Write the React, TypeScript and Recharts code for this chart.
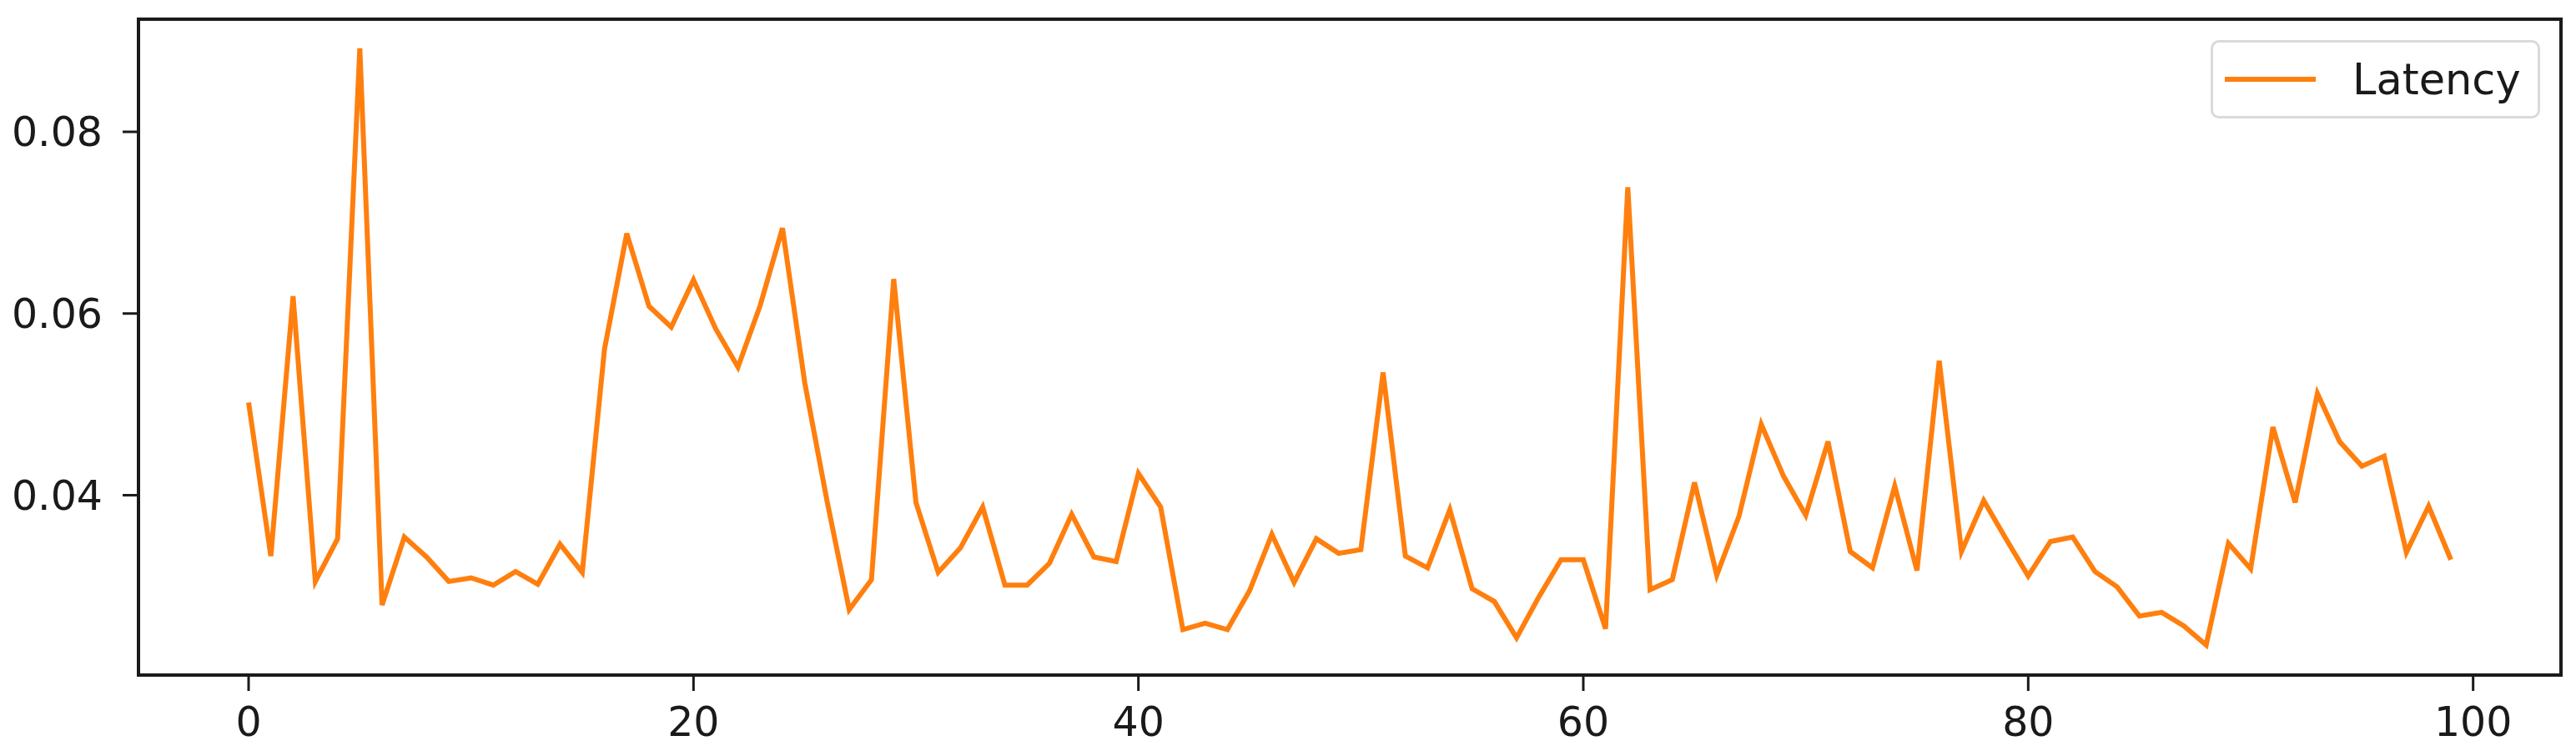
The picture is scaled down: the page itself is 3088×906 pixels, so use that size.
import React from "react";
import { LineChart, Line, XAxis, YAxis, ReferenceArea } from "recharts";

// latency per step
const latency = [
  0.0502, 0.0333, 0.0619, 0.0305, 0.0352, 0.0892, 0.0279, 0.0354, 0.0332, 0.0305,
  0.0309, 0.0301, 0.0316, 0.0302, 0.0346, 0.0315, 0.0561, 0.0688, 0.0608, 0.0585,
  0.0637, 0.0583, 0.0541, 0.0609, 0.0694, 0.0524, 0.0394, 0.0274, 0.0307, 0.0638,
  0.0392, 0.0315, 0.0342, 0.0387, 0.0301, 0.0301, 0.0325, 0.0379, 0.0332, 0.0327,
  0.0424, 0.0387, 0.0252, 0.0259, 0.0252, 0.0295, 0.0357, 0.0304, 0.0352, 0.0336,
  0.0340, 0.0535, 0.0333, 0.0320, 0.0384, 0.0297, 0.0283, 0.0243, 0.0288, 0.0329,
  0.0329, 0.0253, 0.0739, 0.0296, 0.0307, 0.0414, 0.0312, 0.0377, 0.0478, 0.0421,
  0.0378, 0.0459, 0.0338, 0.0320, 0.0410, 0.0317, 0.0548, 0.0338, 0.0394, 0.0352,
  0.0311, 0.0349, 0.0354, 0.0316, 0.0299, 0.0267, 0.0271, 0.0256, 0.0235, 0.0347,
  0.0319, 0.0475, 0.0392, 0.0512, 0.0459, 0.0432, 0.0443, 0.0337, 0.0388, 0.0329,
];
const steps = latency.map((_, i) => i);

const xTicks = [0, 20, 40, 60, 80, 100];
const yTicks = [0.04, 0.06, 0.08];
const xDomain = [-4.95, 103.95];
const yDomain = [0.0202, 0.0924];

const data = steps.map((s, i) => ({ step: s, latency: latency[i] }));

const ORANGE = "#ff7f0e";
const INK = "#1a1a1a";
const FONT = "'DejaVu Sans', sans-serif";

function LegendBox() {
  return (
    <div
      style={{
        position: "absolute",
        left: 2642,
        top: 40,
        boxSizing: "border-box",
        width: 395,
        height: 94,
        border: "3px solid #dadada",
        borderRadius: 10,
        background: "#fff",
        display: "flex",
        alignItems: "center",
        paddingLeft: 14,
        fontFamily: FONT,
        fontSize: 51,
        color: INK,
      }}
    >
      <svg width={109} height={10} style={{ marginRight: 44, display: "block" }}>
        <line x1={0} y1={5} x2={109} y2={5} stroke={ORANGE} strokeWidth={6} />
      </svg>
      <span style={{ lineHeight: 1 }}>Latency</span>
    </div>
  );
}

export default function App() {
  const tick = { fill: INK, fontSize: 49, fontFamily: FONT };
  return (
    <div style={{ position: "relative", width: 3072, height: 890, background: "#fff" }}>
      <LineChart width={3072} height={890} data={data} margin={{ top: 15, right: 10, left: 0, bottom: 0 }}>
        <XAxis
          dataKey="step"
          type="number"
          domain={xDomain}
          ticks={xTicks}
          height={89}
          tick={tick}
          tickSize={19}
          tickMargin={19}
          tickLine={{ stroke: INK, strokeWidth: 3 }}
          axisLine={false}
          allowDataOverflow
        />
        <YAxis
          type="number"
          domain={yDomain}
          ticks={yTicks}
          width={158}
          tick={tick}
          tickSize={19}
          tickMargin={24}
          tickLine={{ stroke: INK, strokeWidth: 3 }}
          axisLine={false}
          tickFormatter={(v: number) => v.toFixed(2)}
          allowDataOverflow
        />
        <Line
          type="linear"
          dataKey="latency"
          name="Latency"
          stroke={ORANGE}
          strokeWidth={6}
          dot={false}
          isAnimationActive={false}
        />
        <ReferenceArea
          x1={xDomain[0]}
          x2={xDomain[1]}
          y1={yDomain[0]}
          y2={yDomain[1]}
          fill="none"
          stroke={INK}
          strokeWidth={4}
          ifOverflow="visible"
        />
      </LineChart>
      <LegendBox />
    </div>
  );
}
